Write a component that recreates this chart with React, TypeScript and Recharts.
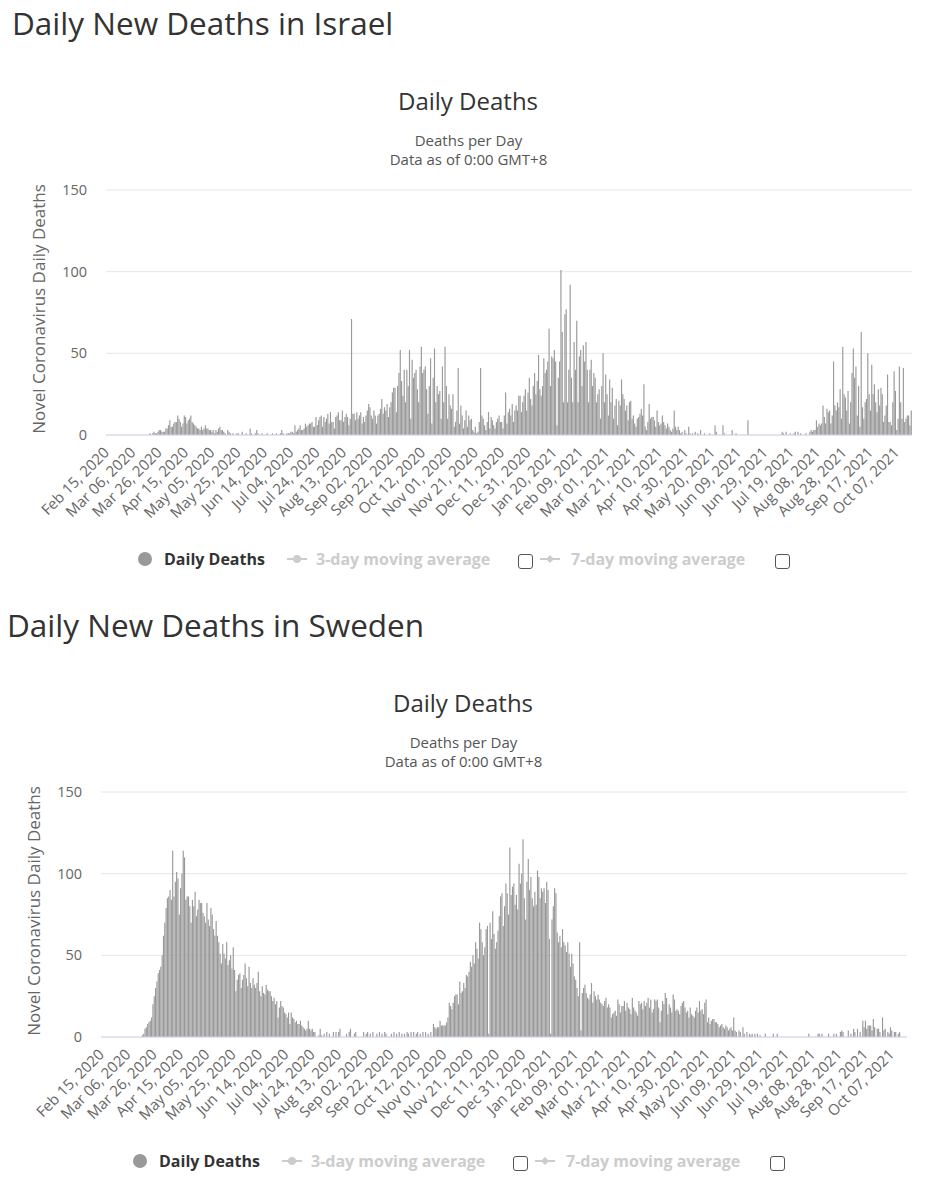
import React from 'react';
import { BarChart, Bar, XAxis, YAxis, CartesianGrid } from 'recharts';

// daily deaths, one array per month (Feb 15 2020 .. Oct 18 2021)
const israelFeb20 = [0, 0, 0, 0, 0, 0, 0, 0, 0, 0, 0, 0, 0, 0, 0];
const israelMar20 = [0, 0, 0, 0, 0, 0, 0, 0, 0, 0, 0, 0, 0, 0, 0, 0, 0, 0, 1, 0, 1, 2, 1, 1, 2, 3, 3, 2, 2, 2, 4];
const israelApr20 = [4, 6, 9, 5, 5, 7, 8, 8, 12, 10, 8, 5, 7, 12, 11, 7, 9, 10, 12, 8, 7, 6, 5, 4, 4, 3, 5, 3, 4, 6];
const israelMay20 = [4, 4, 3, 3, 2, 3, 1, 3, 2, 4, 5, 3, 3, 2, 1, 0, 3, 2, 1, 0, 1, 0, 0, 1, 1, 0, 0, 2, 0, 0, 1];
const israelJun20 = [0, 0, 4, 1, 0, 0, 1, 3, 1, 0, 0, 1, 0, 0, 0, 1, 0, 0, 0, 1, 0, 0, 1, 0, 0, 1, 3, 1, 0, 0];
const israelJul20 = [1, 1, 1, 2, 2, 1, 6, 2, 3, 4, 6, 3, 3, 4, 7, 5, 6, 7, 7, 8, 5, 5, 11, 6, 9, 11, 12, 5, 11, 8, 10];
const israelAug20 = [13, 7, 14, 8, 8, 4, 11, 12, 14, 9, 9, 15, 8, 11, 13, 11, 6, 10, 71, 13, 13, 9, 14, 10, 12, 14, 7, 11, 8, 12, 15];
const israelSep20 = [19, 17, 12, 10, 15, 12, 7, 12, 13, 16, 22, 13, 17, 15, 19, 11, 17, 20, 26, 29, 29, 14, 30, 38, 52, 33, 24, 40, 20, 40];
const israelOct20 = [30, 52, 10, 46, 35, 38, 40, 28, 20, 42, 54, 38, 40, 42, 28, 13, 30, 47, 7, 35, 53, 20, 30, 25, 27, 10, 42, 20, 54, 30, 10];
const israelNov20 = [25, 18, 16, 25, 5, 8, 15, 41, 7, 18, 12, 4, 9, 15, 5, 12, 9, 10, 3, 2, 5, 1, 2, 8, 41, 12, 10, 6, 3, 8];
const israelDec20 = [14, 4, 11, 9, 6, 4, 8, 10, 12, 8, 8, 4, 12, 26, 7, 14, 16, 12, 19, 8, 15, 18, 15, 24, 24, 14, 20, 24, 28, 15, 26];
const israelJan21 = [35, 22, 18, 30, 38, 25, 33, 49, 28, 24, 30, 47, 38, 40, 45, 65, 30, 48, 47, 52, 45, 6, 35, 45, 101, 63, 20, 74, 77, 20, 40];
const israelFeb21 = [92, 35, 20, 57, 40, 70, 20, 48, 52, 30, 55, 45, 57, 40, 20, 40, 46, 30, 38, 35, 20, 25, 28, 10, 30, 50, 20, 37];
const israelMar21 = [25, 12, 34, 20, 29, 10, 18, 22, 6, 21, 18, 34, 25, 22, 15, 18, 9, 20, 21, 10, 12, 7, 5, 10, 11, 13, 16, 12, 31, 5, 3];
const israelApr21 = [8, 19, 10, 11, 11, 9, 5, 15, 8, 6, 7, 12, 8, 6, 4, 7, 5, 3, 2, 4, 15, 5, 3, 5, 3, 1, 2, 0, 3, 1];
const israelMay21 = [0, 5, 1, 0, 1, 0, 2, 0, 1, 0, 3, 0, 0, 1, 0, 0, 0, 1, 0, 0, 0, 6, 2, 0, 0, 0, 0, 6, 1, 0, 0];
const israelJun21 = [0, 0, 0, 3, 0, 0, 1, 0, 0, 0, 0, 0, 0, 0, 0, 9, 0, 0, 0, 0, 0, 0, 0, 0, 0, 0, 0, 0, 0, 0];
const israelJul21 = [0, 0, 0, 0, 0, 0, 0, 0, 0, 0, 0, 2, 1, 0, 2, 0, 0, 1, 0, 0, 1, 2, 0, 2, 0, 1, 0, 0, 0, 1, 0];
const israelAug21 = [0, 2, 3, 2, 3, 3, 9, 5, 7, 6, 7, 18, 11, 7, 16, 14, 15, 7, 12, 45, 18, 15, 20, 17, 28, 10, 54, 25, 23, 15, 27];
const israelSep21 = [7, 20, 38, 53, 35, 42, 12, 30, 5, 63, 17, 10, 20, 22, 50, 25, 15, 43, 25, 31, 20, 14, 28, 18, 29, 25, 8, 12, 18, 37];
const israelOct21 = [8, 8, 6, 20, 39, 27, 3, 10, 42, 20, 10, 41, 8, 10, 12, 12, 6, 15];

const swedenFeb20 = [0, 0, 0, 0, 0, 0, 0, 0, 0, 0, 0, 0, 0, 0, 0];
const swedenMar20 = [0, 0, 0, 0, 0, 0, 0, 0, 0, 0, 0, 0, 0, 0, 0, 0, 1, 2, 5, 6, 8, 9, 10, 12, 20, 25, 30, 34, 39, 41, 43];
const swedenApr20 = [50, 62, 70, 79, 85, 86, 90, 84, 114, 86, 95, 101, 97, 75, 91, 100, 114, 110, 84, 86, 86, 80, 70, 84, 80, 89, 74, 78, 84, 82];
const swedenMay20 = [82, 76, 74, 70, 82, 72, 68, 79, 75, 66, 62, 71, 62, 58, 51, 45, 57, 51, 48, 58, 44, 47, 50, 42, 55, 41, 28, 35, 38, 39, 30];
const swedenJun20 = [35, 38, 45, 36, 31, 43, 33, 30, 36, 32, 30, 33, 40, 28, 25, 31, 27, 26, 32, 29, 28, 28, 25, 22, 24, 20, 22, 12, 18, 22];
const swedenJul20 = [19, 18, 15, 14, 12, 15, 8, 15, 12, 11, 9, 10, 8, 8, 10, 7, 6, 5, 4, 5, 10, 5, 4, 5, 3, 3, 0, 0, 1, 5, 1];
const swedenAug20 = [0, 2, 0, 3, 0, 2, 0, 0, 3, 0, 3, 0, 3, 5, 0, 0, 0, 0, 2, 0, 3, 5, 0, 0, 2, 3, 0, 0, 0, 0, 0];
const swedenSep20 = [3, 0, 2, 3, 0, 2, 0, 3, 0, 0, 2, 0, 3, 0, 2, 0, 3, 2, 0, 0, 0, 2, 0, 3, 0, 2, 0, 3, 0, 2];
const swedenOct20 = [0, 2, 0, 3, 2, 0, 3, 0, 3, 0, 2, 3, 0, 2, 0, 3, 0, 3, 0, 2, 0, 3, 0, 8, 6, 5, 6, 6, 10, 7, 7];
const swedenNov20 = [7, 7, 9, 12, 21, 19, 17, 21, 25, 26, 26, 20, 34, 27, 28, 33, 30, 38, 37, 40, 46, 43, 50, 45, 58, 54, 48, 70, 66, 58];
const swedenDec20 = [50, 55, 66, 68, 2, 70, 60, 77, 63, 54, 58, 65, 74, 86, 88, 68, 80, 94, 88, 75, 116, 87, 92, 94, 81, 87, 78, 106, 94, 100, 121];
const swedenJan21 = [85, 72, 95, 109, 90, 98, 85, 80, 89, 81, 102, 98, 85, 91, 89, 91, 82, 95, 90, 60, 2, 72, 80, 91, 88, 64, 58, 62, 55, 66, 58];
const swedenFeb21 = [56, 52, 58, 51, 43, 51, 45, 37, 35, 30, 25, 58, 4, 27, 30, 32, 27, 24, 23, 26, 33, 21, 28, 25, 23, 26, 23, 21];
const swedenMar21 = [20, 19, 22, 24, 18, 20, 18, 12, 14, 15, 16, 13, 23, 20, 15, 19, 19, 22, 16, 21, 18, 17, 14, 24, 18, 16, 15, 13, 22, 20, 21];
const swedenApr21 = [17, 22, 19, 21, 24, 18, 23, 15, 17, 23, 22, 23, 18, 9, 16, 22, 20, 27, 24, 14, 20, 18, 15, 26, 23, 16, 17, 16, 14, 19];
const swedenMay21 = [21, 22, 18, 15, 16, 12, 18, 14, 13, 12, 16, 18, 15, 22, 16, 17, 14, 21, 23, 9, 12, 8, 10, 11, 11, 9, 9, 8, 6, 7, 8];
const swedenJun21 = [6, 5, 7, 6, 4, 5, 6, 4, 12, 4, 3, 0, 4, 3, 0, 6, 2, 0, 3, 0, 2, 1, 2, 0, 2, 0, 2, 0, 1, 0];
const swedenJul21 = [0, 0, 2, 0, 0, 0, 0, 0, 2, 0, 0, 2, 0, 0, 0, 0, 0, 0, 0, 0, 0, 0, 0, 0, 0, 0, 0, 0, 0, 0, 0];
const swedenAug21 = [0, 0, 0, 0, 2, 0, 0, 0, 0, 0, 0, 2, 2, 0, 2, 0, 0, 0, 0, 2, 0, 0, 0, 2, 0, 2, 0, 0, 3, 4, 3];
const swedenSep21 = [0, 0, 0, 4, 0, 2, 0, 5, 3, 0, 5, 0, 3, 0, 10, 6, 10, 5, 7, 7, 7, 4, 11, 6, 0, 5, 5, 3, 0, 12];
const swedenOct21 = [4, 5, 0, 3, 2, 6, 4, 0, 3, 3, 0, 2, 3, 0, 0, 0, 0, 0];

const israelDaily = [
  ...israelFeb20, ...israelMar20, ...israelApr20, ...israelMay20, ...israelJun20, ...israelJul20,
  ...israelAug20, ...israelSep20, ...israelOct20, ...israelNov20, ...israelDec20, ...israelJan21,
  ...israelFeb21, ...israelMar21, ...israelApr21, ...israelMay21, ...israelJun21, ...israelJul21,
  ...israelAug21, ...israelSep21, ...israelOct21,
];
const swedenDaily = [
  ...swedenFeb20, ...swedenMar20, ...swedenApr20, ...swedenMay20, ...swedenJun20, ...swedenJul20,
  ...swedenAug20, ...swedenSep20, ...swedenOct20, ...swedenNov20, ...swedenDec20, ...swedenJan21,
  ...swedenFeb21, ...swedenMar21, ...swedenApr21, ...swedenMay21, ...swedenJun21, ...swedenJul21,
  ...swedenAug21, ...swedenSep21, ...swedenOct21,
];

const yTicks = [0, 50, 100, 150];
const monthNames = ['Jan', 'Feb', 'Mar', 'Apr', 'May', 'Jun', 'Jul', 'Aug', 'Sep', 'Oct', 'Nov', 'Dec'];
const firstDay = Date.UTC(2020, 1, 15);

const dayLabel = (i: number) => {
  const d = new Date(firstDay + i * 86400000);
  return `${monthNames[d.getUTCMonth()]} ${String(d.getUTCDate()).padStart(2, '0')}, ${d.getUTCFullYear()}`;
};

const toRows = (values: number[]) => values.map((v, i) => ({ date: dayLabel(i), deaths: v }));

const FONT = '"Open Sans", sans-serif';

const XTick = (props: any) => {
  const { x, y, payload } = props;
  return (
    <g transform={`translate(${x},${y + 7})`}>
      <text x={0} y={0} dy={5} textAnchor="end" transform="rotate(-45)" fill="#666" fontSize={15} fontFamily={FONT}>
        {payload.value}
      </text>
    </g>
  );
};

const Checkbox = ({ left, top }: { left: number; top: number }) => (
  <div
    style={{
      position: 'absolute', left, top, width: 13, height: 13,
      border: '1.5px solid #555', borderRadius: 3, background: '#fff',
    }}
  />
);

const LineSymbol = ({ left, top, diamond }: { left: number; top: number; diamond?: boolean }) => (
  <svg style={{ position: 'absolute', left, top }} width={20} height={12}>
    <line x1={0} y1={6} x2={20} y2={6} stroke="#ccc" strokeWidth={2} />
    {diamond ? <path d="M10 2 L14 6 L10 10 L6 6 Z" fill="#ccc" /> : <circle cx={10} cy={6} r={4} fill="#ccc" />}
  </svg>
);

const ChartBlock = ({ country, values, dx, dy }: { country: string; values: number[]; dx: number; dy: number }) => {
  const rows = toRows(values);
  const text = (style: React.CSSProperties, content: string) => (
    <div style={{ position: 'absolute', whiteSpace: 'nowrap', fontFamily: FONT, lineHeight: 1, ...style }}>{content}</div>
  );
  return (
    <div style={{ position: 'absolute', left: dx, top: dy, width: 928, height: 600 }}>
      {text({ left: 12, top: 7, fontSize: 31.5, color: '#333' }, `Daily New Deaths in ${country}`)}
      {text({ left: 0, width: 936, textAlign: 'center', top: 89, fontSize: 24, color: '#333' }, 'Daily Deaths')}
      {text({ left: 0, width: 937, textAlign: 'center', top: 133, fontSize: 15, color: '#555' }, 'Deaths per Day')}
      {text({ left: 0, width: 937, textAlign: 'center', top: 152, fontSize: 15, color: '#555' }, 'Data as of 0:00 GMT+8')}
      {text(
        { left: 38, top: 309, fontSize: 17, color: '#666', transform: 'translate(-50%, -50%) rotate(-90deg)' },
        'Novel Coronavirus Daily Deaths'
      )}
      <div style={{ position: 'absolute', left: 0, top: 180 }}>
        <BarChart
          width={928}
          height={360}
          data={rows}
          margin={{ top: 10, right: 16, left: 56, bottom: 0 }}
        >
          <CartesianGrid vertical={false} stroke="#e6e6e6" />
          <XAxis
            dataKey="date"
            interval={19}
            tick={<XTick />}
            tickLine={false}
            axisLine={{ stroke: '#ccd6eb' }}
            height={105}
          />
          <YAxis
            domain={[0, 150]}
            ticks={yTicks}
            interval={0}
            axisLine={false}
            tickLine={false}
            width={50}
            tickMargin={13}
            tick={{ fill: '#666', fontSize: 14.5, fontFamily: FONT }}
          />
          <Bar dataKey="deaths" fill="#999" barSize={1.15} isAnimationActive={false} />
        </BarChart>
      </div>
      <div style={{ position: 'absolute', left: 138, top: 552, width: 14, height: 14, borderRadius: 7, background: '#999' }} />
      {text({ left: 164, top: 551, fontSize: 16, fontWeight: 700, color: '#333' }, 'Daily Deaths')}
      <LineSymbol left={287} top={553} />
      {text({ left: 316, top: 551, fontSize: 16, fontWeight: 700, color: '#ccc' }, '3-day moving average')}
      <Checkbox left={518} top={554} />
      <LineSymbol left={540} top={553} diamond />
      {text({ left: 571, top: 551, fontSize: 16, fontWeight: 700, color: '#ccc' }, '7-day moving average')}
      <Checkbox left={775} top={554} />
    </div>
  );
};

export default function App() {
  return (
    <div style={{ position: 'absolute', left: 0, top: 0, width: 928, height: 1194, background: '#fff' }}>
      <ChartBlock country="Israel" values={israelDaily} dx={0} dy={0} />
      <ChartBlock country="Sweden" values={swedenDaily} dx={-5} dy={602} />
    </div>
  );
}
